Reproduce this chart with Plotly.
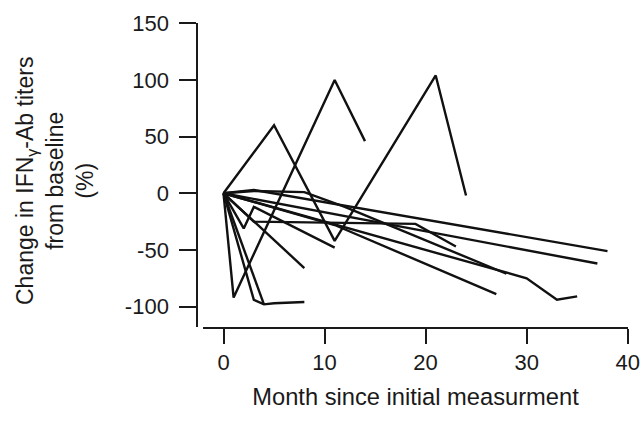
import plotly.graph_objects as go

# Each series: months since initial measurement and % change from baseline
months = [
    [0, 5, 11, 21, 24],
    [0, 1, 11, 14],
    [0, 3, 4, 5, 8],
    [0, 4],
    [0, 2, 3, 11],
    [0, 8],
    [0, 3, 38],
    [0, 37],
    [0, 30, 33, 35],
    [0, 3, 8, 12, 28],
    [0, 11, 27],
    [0, 3, 19, 23],
]
changes = [
    [0, 60, -42, 104, -2],
    [0, -92, 100, 46],
    [0, -94, -98, -97, -96],
    [0, -98],
    [0, -31, -12, -48],
    [0, -66],
    [0, 3, -51],
    [0, -62],
    [0, -75, -94, -91],
    [0, 2, 1, -12, -71],
    [0, -28, -89],
    [0, -25, -27, -47],
]
x_ticks = [0, 10, 20, 30, 40]
y_ticks = [-100, -50, 0, 50, 100, 150]
y_tick_text = ["-100", "-50", "0", "50", "100", "150"]

W, H = 644, 425


def px(x):
    return x / W


def py(y):
    return 1 - y / H


fig = go.Figure()
for mx, cy in zip(months, changes):
    fig.add_trace(go.Scatter(x=mx, y=cy, mode="lines",
                             line=dict(color="#111111", width=2.4),
                             showlegend=False, hoverinfo="skip"))

family = "Liberation Sans, Arial, sans-serif"
font = dict(family=family, size=22, color="#1a1a1a")
fig.update_layout(
    width=W, height=H, margin=dict(l=0, r=0, t=0, b=0),
    paper_bgcolor="white", plot_bgcolor="white", font=font,
    xaxis=dict(domain=[px(203), px(628)], range=[-2.03, 40.03], anchor="free",
               position=py(328), showline=True, linecolor="#1a1a1a", linewidth=2,
               ticks="outside", ticklen=15, tickwidth=2, tickcolor="#1a1a1a",
               tickvals=x_ticks, ticklabeloverflow="allow",
               showgrid=False, zeroline=False, automargin=False,
               title=dict(text="Month since initial measurment", standoff=13,
                          font=dict(family=family, size=23.7, color="#1a1a1a"))),
    yaxis=dict(domain=[py(327), py(23.3)], range=[-118, 150], anchor="free",
               position=px(197.3), showline=True, linecolor="#1a1a1a", linewidth=2,
               ticks="outside", ticklen=17, tickwidth=2, tickcolor="#1a1a1a",
               ticklabelstandoff=6, tickvals=y_ticks, ticktext=y_tick_text,
               showgrid=False, zeroline=False, automargin=False),
    annotations=[dict(text="Change in IFN<sub>γ</sub>-Ab titers<br>from baseline<br>(%)",
                      textangle=-90, xref="paper", yref="paper",
                      x=px(55), y=py(181), xanchor="center", yanchor="middle",
                      showarrow=False, font=dict(family=family, size=23, color="#1a1a1a"))],
)
fig.write_html("out.html", config={"displayModeBar": False},
               post_script="document.body.style.margin='0';")
